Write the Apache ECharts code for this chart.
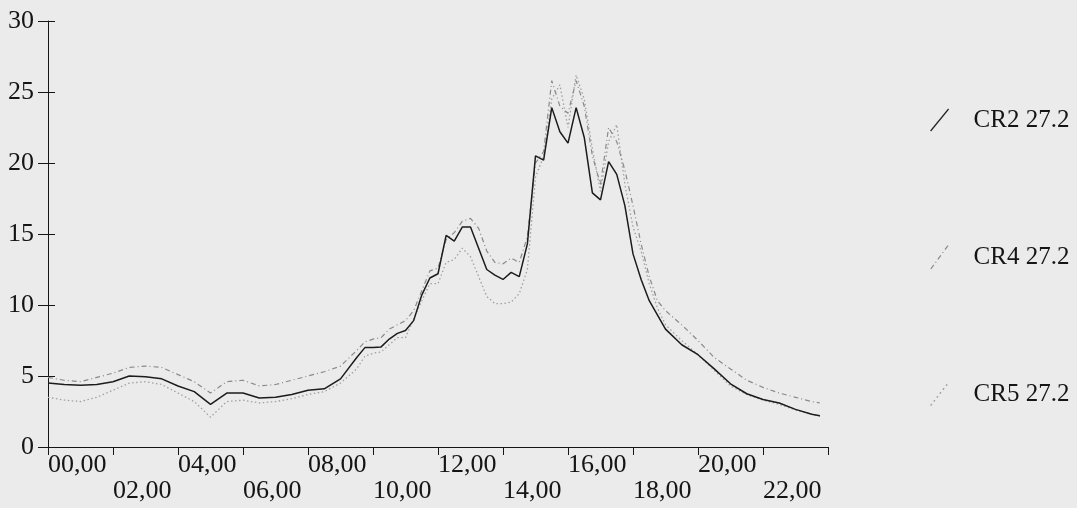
<!DOCTYPE html>
<html>
<head>
<meta charset="utf-8">
<script src="https://cdn.jsdelivr.net/npm/echarts@6/dist/echarts.min.js"></script>
<style>
  html, body { margin: 0; padding: 0; background: #ebebeb; }
  #chart { width: 1077px; height: 508px; }
</style>
</head>
<body>
<div id="chart"></div>
<script>
// time of day in hours
const hours = [
  0, 0.5, 1, 1.5, 2, 2.5, 3, 3.5, 4, 4.5, 5, 5.5, 6, 6.5, 7, 7.5, 8, 8.5, 9,
  9.5, 9.75, 10, 10.25, 10.5, 10.75, 11, 11.25, 11.5, 11.75, 12, 12.25, 12.5, 12.75,
  13, 13.25, 13.5, 13.75, 14, 14.25, 14.5, 14.75, 15, 15.25, 15.5, 15.75, 16, 16.25,
  16.5, 16.75, 17, 17.25, 17.5, 17.75, 18, 18.25, 18.5, 18.75,
  19, 19.5, 20, 20.5, 21, 21.5, 22, 22.5, 23, 23.5, 23.75
];
const cr2 = [
  4.5, 4.4, 4.35, 4.4, 4.6, 5.0, 4.95, 4.8, 4.3, 3.9, 3.0, 3.8, 3.8, 3.45, 3.5, 3.7, 4.0, 4.1, 4.8,
  6.3, 7.0, 7.0, 7.05, 7.6, 8.0, 8.2, 8.9, 10.7, 11.9, 12.2, 14.9, 14.5, 15.5,
  15.5, 14.0, 12.5, 12.1, 11.8, 12.3, 12.0, 14.3, 20.5, 20.2, 23.9, 22.2, 21.4, 23.9,
  21.8, 17.9, 17.4, 20.1, 19.2, 17.0, 13.6, 11.8, 10.3, 9.3,
  8.3, 7.2, 6.5, 5.5, 4.45, 3.75, 3.35, 3.1, 2.65, 2.3, 2.2
];
const cr4 = [
  4.9, 4.7, 4.6, 4.9, 5.2, 5.6, 5.7, 5.6, 5.1, 4.6, 3.8, 4.6, 4.7, 4.3, 4.4, 4.7, 5.0, 5.3, 5.7,
  6.8, 7.4, 7.6, 7.7, 8.3, 8.6, 8.9, 9.6, 11.0, 12.4, 12.6, 14.6, 15.1, 15.9,
  16.1, 15.4, 13.8, 13.0, 12.9, 13.3, 13.0, 14.8, 20.0, 20.8, 25.8, 24.0, 23.5, 25.8,
  24.0, 20.5, 18.5, 22.5, 21.5, 19.5, 17.0, 14.3, 12.0, 10.3,
  9.6, 8.6, 7.5, 6.3, 5.5, 4.7, 4.2, 3.8, 3.5, 3.2, 3.1
];
const cr5 = [
  3.5, 3.3, 3.2, 3.5, 4.0, 4.5, 4.6, 4.4, 3.8, 3.2, 2.1, 3.2, 3.3, 3.1, 3.2, 3.4, 3.7, 3.9, 4.5,
  5.5, 6.4, 6.6, 6.7, 7.2, 7.7, 7.7, 9.0, 10.3, 11.5, 11.5, 13.0, 13.2, 14.0,
  13.4, 12.0, 10.6, 10.1, 10.1, 10.2, 10.8, 12.5, 19.0, 20.5, 24.5, 25.5, 22.5, 26.2,
  24.5, 21.0, 18.0, 21.5, 22.7, 18.5, 15.5, 13.8, 11.5, 9.8,
  8.6, 7.5, 6.5, 5.4, 4.3, 3.7, 3.3, 3.0, 2.6, 2.3, 2.15
];
const seriesNames = ['CR2 27.2', 'CR4 27.2', 'CR5 27.2'];
const yTicks = [0, 5, 10, 15, 20, 25, 30];

const serif = "'Liberation Serif', 'Times New Roman', serif";
const ink = '#151515';

function pairs(vals) {
  return hours.map(function (h, i) { return [h, vals[i]]; });
}

function hourLabel(v) {
  if (v >= 24) return '';
  return (v < 10 ? '0' : '') + v + ',00';
}

const chart = echarts.init(document.getElementById('chart'));

const option = {
  backgroundColor: '#ebebeb',
  animation: false,
  grid: { left: 48, right: 249, top: 21, bottom: 61 },
  xAxis: {
    type: 'value',
    min: 0,
    max: 24,
    interval: 2,
    axisLine: { lineStyle: { color: ink, width: 1 } },
    axisTick: { length: 8, lineStyle: { color: ink } },
    splitLine: { show: false },
    axisLabel: {
      align: 'left',
      margin: 5,
      fontFamily: serif,
      fontSize: 26,
      lineHeight: 26,
      color: ink,
      formatter: function (v) {
        let idx = Math.round(v / 2);
        return (idx % 2 ? '\n' : '') + hourLabel(v);
      }
    }
  },
  yAxis: [{
    type: 'value',
    min: yTicks[0],
    max: yTicks[yTicks.length - 1],
    interval: 5,
    axisLine: { show: true, lineStyle: { color: ink, width: 1 } },
    axisTick: { show: true, length: 10, lineStyle: { color: ink } },
    splitLine: { show: false },
    axisLabel: { margin: 14, fontFamily: serif, fontSize: 26, color: ink }
  }, {
    // second copy only to draw the inner half of the crossing ticks
    type: 'value',
    position: 'left',
    min: yTicks[0],
    max: yTicks[yTicks.length - 1],
    interval: 5,
    axisLine: { show: false },
    axisTick: { show: true, inside: true, length: 7, lineStyle: { color: ink } },
    axisLabel: { show: false },
    splitLine: { show: false }
  }],
  legend: {
    orient: 'vertical',
    left: 925,
    top: 102,
    itemWidth: 18,
    itemHeight: 24,
    itemGap: 111,
    selectedMode: false,
    textStyle: {
      fontFamily: serif,
      fontSize: 25,
      lineHeight: 26,
      color: ink,
      padding: [0, 0, 0, 20]
    },
    data: [
      { name: seriesNames[0], icon: 'path://M0,22L18,0',
        itemStyle: { color: 'transparent', borderColor: '#222', borderWidth: 1.2, borderType: 'solid' } },
      { name: seriesNames[1], icon: 'path://M0,30L22,0',
        itemStyle: { color: 'transparent', borderColor: '#8a8a8a', borderWidth: 1.2, borderType: [5, 3, 1, 3] } },
      { name: seriesNames[2], icon: 'path://M0,18L14,0',
        itemStyle: { color: 'transparent', borderColor: '#9a9a9a', borderWidth: 1.2, borderType: [2, 3] } }
    ]
  },
  series: [{
    name: seriesNames[0],
    type: 'line',
    symbol: 'none',
    data: pairs(cr2),
    lineStyle: { color: '#1c1c1c', width: 1.5 },
    itemStyle: { color: '#1c1c1c' },
    z: 3
  }, {
    name: seriesNames[1],
    type: 'line',
    symbol: 'none',
    data: pairs(cr4),
    lineStyle: { color: '#8a8a8a', width: 1.2, type: [5, 3, 1, 3] },
    itemStyle: { color: '#8a8a8a' },
    z: 2
  }, {
    name: seriesNames[2],
    type: 'line',
    symbol: 'none',
    data: pairs(cr5),
    lineStyle: { color: '#a0a0a0', width: 1.3, type: [1.5, 2.5] },
    itemStyle: { color: '#a0a0a0' },
    z: 1
  }]
};

chart.setOption(option);
</script>
</body>
</html>
